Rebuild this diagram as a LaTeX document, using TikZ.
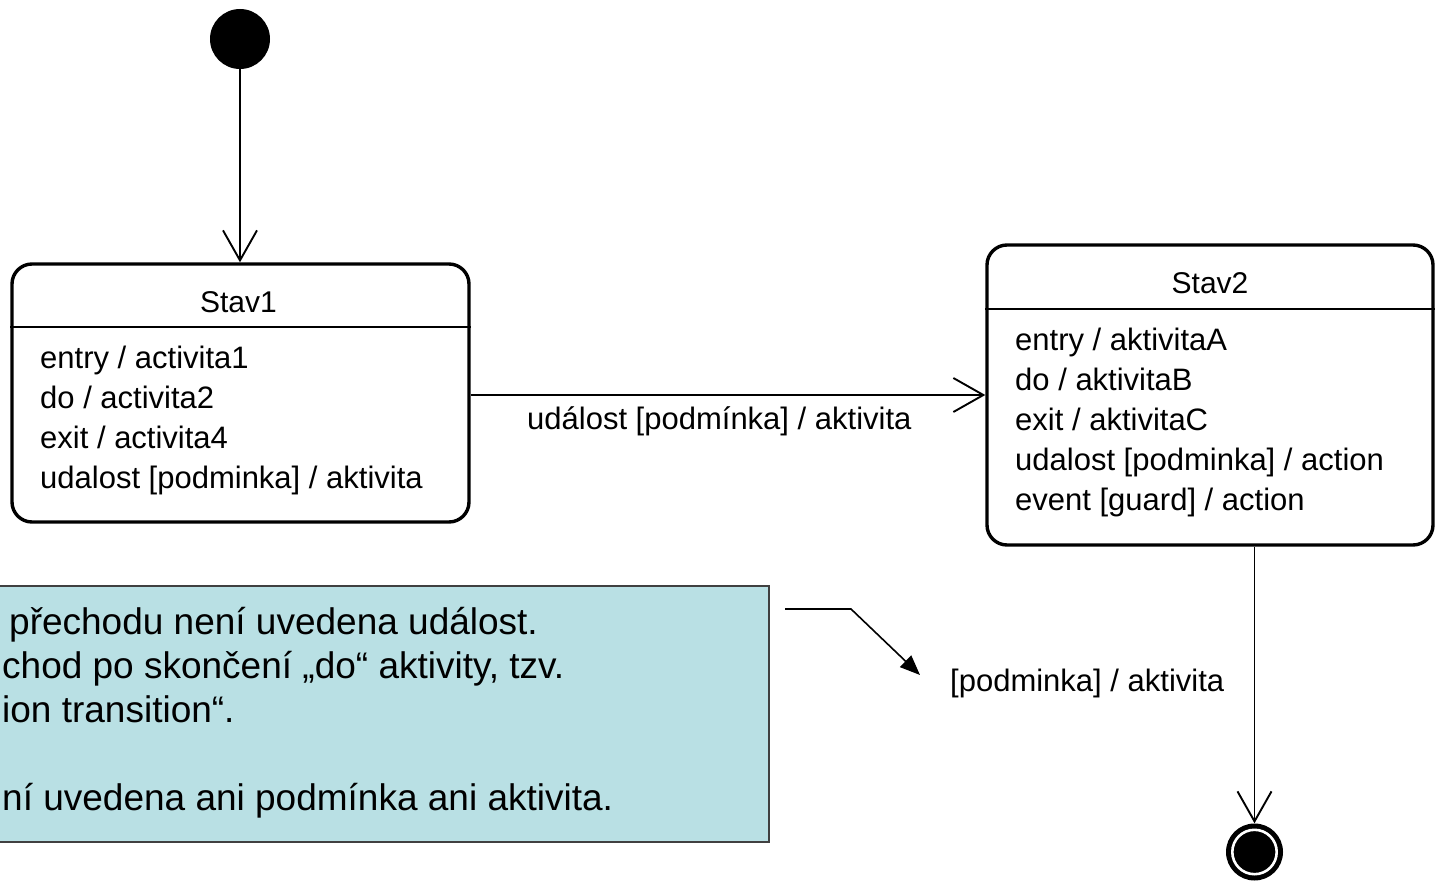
\documentclass[tikz,border=0pt]{standalone}
\usepackage{fontspec}
\setmainfont{Liberation Sans}
\usetikzlibrary{arrows.meta}
\definecolor{notefill}{HTML}{B9E0E4}
\definecolor{noteline}{HTML}{404040}
\begin{document}
\begin{tikzpicture}[x=1pt,y=-1pt,
  statebox/.style={draw, line width=3.4pt, rounded corners=20pt, inner sep=0pt},
  divider/.style={line width=2pt},
  stxt/.style={font=\fontsize{31}{40}\selectfont, anchor=base west, inner sep=0pt},
  sttl/.style={font=\fontsize{30}{40}\selectfont, anchor=base, inner sep=0pt},
  ntxt/.style={font=\fontsize{37}{44}\selectfont, anchor=base west, inner sep=0pt},
  trans/.style={draw, line width=1.9pt, -{Straight Barb[length=30pt, width=34pt, line width=1.9pt]}},
  pointer/.style={draw, line width=1.6pt, -{Triangle[length=20pt, width=16pt]}}
]
\useasboundingbox (0,0) rectangle (1438,891);
\clip (0,0) rectangle (1438,891);

% initial pseudo-state
\node[circle, fill=black, inner sep=0pt, minimum size=60pt] (init) at (240,39) {};

% state Stav1
\node[statebox, minimum width=457pt, minimum height=258pt] (s1) at (240.5,393) {};
\draw[divider] (s1.west |- 0,327) -- (s1.east |- 0,327);
\node[sttl] (s1t) at (238.5,312) {Stav1};
\node[stxt] (s1a) at (40,368) {entry / activita1};
\node[stxt] (s1b) at (40,408) {do / activita2};
\node[stxt] (s1c) at (40,448) {exit / activita4};
\node[stxt] (s1d) at (40,488) {udalost [podminka] / aktivita};

% state Stav2
\node[statebox, minimum width=446pt, minimum height=300pt] (s2) at (1210,395) {};
\draw[divider] (s2.west |- 0,309) -- (s2.east |- 0,309);
\node[sttl] (s2t) at (1210,293) {Stav2};
\node[stxt] (s2a) at (1015,350) {entry / aktivitaA};
\node[stxt] (s2b) at (1015,390) {do / aktivitaB};
\node[stxt] (s2c) at (1015,430) {exit / aktivitaC};
\node[stxt] (s2d) at (1015,470) {udalost [podminka] / action};
\node[stxt] (s2e) at (1015,510) {event [guard] / action};

% final state
\node[circle, fill=black, inner sep=0pt, minimum size=57pt] (fin) at (1254.5,852) {};
\draw[white, line width=2.6pt] (fin) circle[radius=22.2pt];

% transitions
\draw[trans] (init) -- (init |- s1.north);
\draw[trans] (s1.east |- s2) -- (s2.west);
\node[stxt] (t1) at (527,429) {událost [podmínka] / aktivita};
\draw[trans] (s2.south -| fin) -- (fin.north);
\node[stxt] (t2) at (950,691) {[podminka] / aktivita};

% note with pointer
\node[draw=noteline, fill=notefill, line width=1.8pt, inner sep=0pt,
      minimum width=820pt, minimum height=256pt] (note) at (359,714) {};
\node[ntxt] (n1) at (9,634) {přechodu není uvedena událost.};
\node[ntxt] (n2) at (2,678) {chod po skončení „do“ aktivity, tzv.};
\node[ntxt] (n3) at (2,722) {ion transition“.};
\node[ntxt] (n4) at (2,810) {ní uvedena ani podmínka ani aktivita.};

\coordinate (p1) at (785,609);
\coordinate (p2) at (851,609);
\coordinate (p3) at (920,675);
\draw[pointer] (p1) -- (p2) -- (p3);
\end{tikzpicture}
\end{document}
